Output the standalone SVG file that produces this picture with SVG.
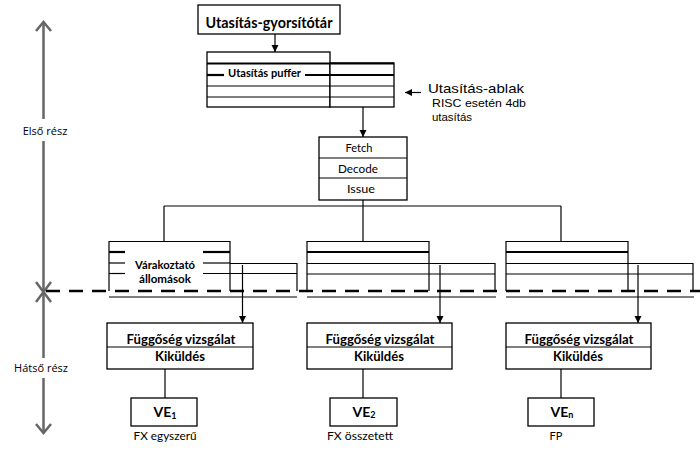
<svg xmlns="http://www.w3.org/2000/svg" width="700" height="452" viewBox="0 0 700 452">
<style>
.bx{fill:#fff;stroke:#000;stroke-width:1.3}
.ln{stroke:#000;stroke-width:1.2;fill:none}
.th{stroke:#000;stroke-width:2.2;fill:none}
.c{font-family:Lato,"Liberation Sans",sans-serif;fill:#000;text-anchor:middle}
.b{font-weight:bold}
.a{font-family:"Liberation Sans",Arial,sans-serif;fill:#000}
.g{font-family:"Open Sans","Liberation Sans",sans-serif;fill:#000;font-size:11px;text-anchor:middle}
.ax{stroke:#666;stroke-width:2.5;fill:none}
</style>
<defs>
<marker id="ah" markerUnits="userSpaceOnUse" markerWidth="8" markerHeight="8" refX="7" refY="3.5" orient="auto">
<path d="M0,0 L7,3.5 L0,7 Z" fill="#000"/>
</marker>
</defs>
<rect width="700" height="452" fill="#fff"/>

<g id="axis">
<line class="ax" x1="43.5" y1="23" x2="43.5" y2="119"/>
<line class="ax" x1="43.5" y1="141" x2="43.5" y2="358"/>
<line class="ax" x1="43.5" y1="378" x2="43.5" y2="432"/>
<polyline class="ax" points="36,31 43.5,22 51,31"/>
<polyline class="ax" points="36,424 43.5,433 51,424"/>
<line class="ax" x1="36" y1="282" x2="51" y2="302"/>
<line class="ax" x1="51" y1="282" x2="36" y2="302"/>
<text class="g" x="45" y="135">Első rész</text>
<text class="g" x="41" y="372">Hátső rész</text>
</g>

<g id="separator">
<line x1="46" y1="291" x2="700" y2="291" stroke="#000" stroke-width="2.5" stroke-dasharray="14 9"/>
</g>

<g id="cache">
<rect class="bx" x="198" y="5" width="142" height="29"/>
<text class="c b" x="269" y="28" font-size="15" textLength="127" lengthAdjust="spacingAndGlyphs">Utasítás-gyorsítótár</text>
</g>

<g id="buffer">
<rect class="bx" x="207" y="52" width="123" height="55"/>
<rect class="bx" x="330" y="63" width="64" height="44"/>
<line class="th" x1="207" y1="63.5" x2="394" y2="63.5"/>
<line class="th" x1="207" y1="75" x2="224" y2="75"/>
<line class="th" x1="305" y1="75" x2="394" y2="75"/>
<line class="ln" x1="207" y1="86" x2="394" y2="86"/>
<line class="ln" x1="207" y1="97" x2="394" y2="97"/>
<text class="c b" x="264.5" y="77" font-size="11" textLength="73" lengthAdjust="spacingAndGlyphs">Utasítás puffer</text>
</g>

<g id="window-label">
<text class="a" x="428" y="93" font-size="13" textLength="96" lengthAdjust="spacingAndGlyphs">Utasítás-ablak</text>
<text class="a" x="432" y="107" font-size="11.5" textLength="94" lengthAdjust="spacingAndGlyphs">RISC esetén 4db</text>
<text class="a" x="432" y="121" font-size="11.5" textLength="40" lengthAdjust="spacingAndGlyphs">utasítás</text>
</g>

<g id="fdi">
<rect class="bx" x="319" y="137" width="88" height="63"/>
<line class="ln" x1="319" y1="158" x2="407" y2="158"/>
<line class="ln" x1="319" y1="178" x2="407" y2="178"/>
<text class="c" x="359" y="151.5" font-size="12" textLength="27" lengthAdjust="spacingAndGlyphs">Fetch</text>
<text class="c" x="358" y="172.5" font-size="12" textLength="40" lengthAdjust="spacingAndGlyphs">Decode</text>
<text class="c" x="361" y="193" font-size="12" textLength="28" lengthAdjust="spacingAndGlyphs">Issue</text>
</g>

<g id="rs1">
<polyline class="ln" points="109,291 109,241.5 230,241.5 230,291"/>
<polyline class="ln" points="230,263.5 297,263.5 297,291"/>
<line class="th" x1="109" y1="252" x2="125" y2="252"/>
<line class="th" x1="203" y1="252" x2="230" y2="252"/>
<line class="ln" x1="109" y1="263" x2="125" y2="263"/>
<line class="ln" x1="203" y1="263" x2="230" y2="263"/>
<line class="ln" x1="109" y1="273.5" x2="125" y2="273.5"/>
<line class="ln" x1="203" y1="273.5" x2="297" y2="273.5"/>
<line class="ln" x1="109" y1="297" x2="297" y2="297"/>
<text class="c b" x="165" y="269" font-size="11.5" textLength="60" lengthAdjust="spacingAndGlyphs">Várakoztató</text>
<text class="c b" x="165" y="283" font-size="11.5" textLength="52" lengthAdjust="spacingAndGlyphs">állomások</text>
</g>

<g id="rs2">
<polyline class="ln" points="307,291 307,241.5 429,241.5 429,291"/>
<polyline class="ln" points="429,263.5 495,263.5 495,291"/>
<line class="th" x1="307" y1="252" x2="429" y2="252"/>
<line class="ln" x1="307" y1="263.5" x2="429" y2="263.5"/>
<line class="ln" x1="307" y1="274" x2="495" y2="274"/>
<line class="ln" x1="307" y1="297" x2="496" y2="297"/>
</g>

<g id="rs3">
<polyline class="ln" points="506,291 506,241.5 628,241.5 628,291"/>
<polyline class="ln" points="628,263.5 693,263.5 693,291"/>
<line class="th" x1="506" y1="252" x2="628" y2="252"/>
<line class="ln" x1="506" y1="263.5" x2="628" y2="263.5"/>
<line class="ln" x1="506" y1="274" x2="693" y2="274"/>
<line class="ln" x1="506" y1="297" x2="694" y2="297"/>
</g>

<g id="disp1">
<rect class="bx" x="107" y="323" width="146" height="46"/>
<line class="ln" x1="107" y1="347" x2="253" y2="347"/>
<text class="c b" x="181" y="344" font-size="14" textLength="109" lengthAdjust="spacingAndGlyphs">Függőség vizsgálat</text>
<text class="c b" x="180" y="361" font-size="14" textLength="50" lengthAdjust="spacingAndGlyphs">Kiküldés</text>
</g>
<g id="disp2">
<rect class="bx" x="307" y="323" width="145" height="46"/>
<line class="ln" x1="307" y1="347" x2="452" y2="347"/>
<text class="c b" x="380" y="344" font-size="14" textLength="109" lengthAdjust="spacingAndGlyphs">Függőség vizsgálat</text>
<text class="c b" x="379" y="361" font-size="14" textLength="50" lengthAdjust="spacingAndGlyphs">Kiküldés</text>
</g>
<g id="disp3">
<rect class="bx" x="506" y="323" width="145" height="46"/>
<line class="ln" x1="506" y1="347" x2="651" y2="347"/>
<text class="c b" x="579" y="344" font-size="14" textLength="109" lengthAdjust="spacingAndGlyphs">Függőség vizsgálat</text>
<text class="c b" x="578" y="361" font-size="14" textLength="50" lengthAdjust="spacingAndGlyphs">Kiküldés</text>
</g>

<g id="ve1">
<rect class="bx" x="131" y="398" width="66" height="28"/>
<text class="c b" x="165" y="417" font-size="14">VE<tspan font-size="9" dy="2">1</tspan></text>
<text class="c" x="165" y="440" font-size="11" textLength="63" lengthAdjust="spacingAndGlyphs">FX egyszerű</text>
</g>
<g id="ve2">
<rect class="bx" x="330" y="398" width="67" height="28"/>
<text class="c b" x="364" y="417" font-size="14">VE<tspan font-size="9" dy="1">2</tspan></text>
<text class="c" x="360" y="440" font-size="11" textLength="66" lengthAdjust="spacingAndGlyphs">FX összetett</text>
</g>
<g id="ven">
<rect class="bx" x="528" y="398" width="66" height="28"/>
<text class="c b" x="562" y="417" font-size="14">VE<tspan font-size="9" dy="1">n</tspan></text>
<text class="c" x="556" y="440" font-size="11">FP</text>
</g>

<g id="connectors">
<line class="ln" x1="275" y1="34" x2="275" y2="52" marker-end="url(#ah)"/>
<line class="ln" x1="363" y1="107" x2="363" y2="137" marker-end="url(#ah)"/>
<line class="ln" x1="421" y1="92.5" x2="405" y2="92.5" marker-end="url(#ah)"/>
<line class="ln" x1="363" y1="200" x2="363" y2="241.5"/>
<line class="ln" x1="164" y1="206" x2="561" y2="206"/>
<line class="ln" x1="164" y1="206" x2="164" y2="241.5"/>
<line class="ln" x1="561" y1="206" x2="561" y2="241.5"/>
<line class="ln" x1="242.5" y1="265" x2="242.5" y2="323" marker-end="url(#ah)"/>
<line class="ln" x1="440" y1="265" x2="440" y2="323" marker-end="url(#ah)"/>
<line class="ln" x1="638" y1="265" x2="638" y2="323" marker-end="url(#ah)"/>
<line class="ln" x1="165" y1="369" x2="165" y2="398"/>
<line class="ln" x1="363" y1="369" x2="363" y2="398"/>
<line class="ln" x1="561" y1="369" x2="561" y2="398"/>
</g>
</svg>
